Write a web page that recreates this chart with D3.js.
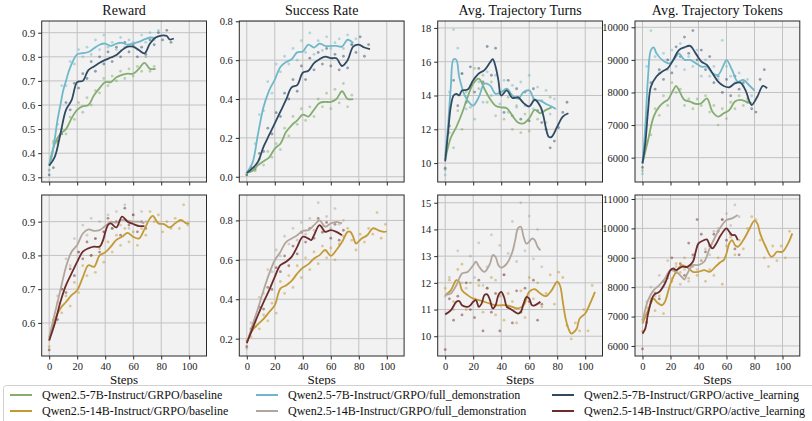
<!DOCTYPE html>
<html>
<head>
<meta charset="utf-8">
<script src="https://cdn.jsdelivr.net/npm/d3@7"></script>
<style>
body { margin: 0; background: #fff; }
svg { display: block; font-family: "Liberation Serif", "DejaVu Serif", serif; }
</style>
</head>
<body>
<svg id="chart" width="812" height="421"></svg>
<script>
// ---- data ----
const xTicks = [0, 20, 40, 60, 80, 100];
const dotStride = 3; // scatter points every 3 steps, starting at step 0

const seriesNames = [
  'Qwen2.5-7B-Instruct/GRPO/baseline',
  'Qwen2.5-7B-Instruct/GRPO/full_demonstration',
  'Qwen2.5-7B-Instruct/GRPO/active_learning',
  'Qwen2.5-14B-Instruct/GRPO/baseline',
  'Qwen2.5-14B-Instruct/GRPO/full_demonstration',
  'Qwen2.5-14B-Instruct/GRPO/active_learning'
];
const seriesColors = ['#84ad6f', '#6fb8c9', '#2f4a63', '#c39a36', '#b2a69c', '#6d2b2b'];
const titles = ['Reward', 'Success Rate', 'Avg. Trajectory Turns', 'Avg. Trajectory Tokens'];

// Reward, 7B
const rewardBase7B = [[0,.35],[4,.44],[8,.48],[12,.50],[16,.545],[20,.58],[24,.595],[28,.60],[32,.64],[36,.67],[40,.695],[44,.695],[48,.715],[52,.725],[56,.73],[60,.73],[64,.75],[68,.775],[72,.75],[76,.75]];
const rewardFull7B = [[0,.35],[2,.39],[4,.46],[6,.54],[8,.60],[10,.66],[12,.70],[14,.74],[16,.77],[20,.81],[24,.815],[28,.82],[32,.835],[36,.85],[40,.855],[44,.845],[48,.855],[52,.858],[56,.85],[60,.855],[64,.862],[68,.872],[72,.88],[76,.877]];
const rewardActive7B = [[0,.348],[4,.385],[8,.48],[12,.58],[16,.62],[20,.695],[24,.70],[28,.745],[32,.76],[36,.775],[40,.787],[44,.797],[48,.807],[52,.828],[56,.842],[60,.842],[64,.828],[68,.814],[72,.855],[76,.88],[80,.888],[84,.886],[86,.872],[89,.876]];
const rewardBase7BDots = [.33,.45,.44,.50,.48,.55,.54,.61,.57,.63,.60,.66,.65,.71,.68,.72,.70,.74,.71,.75,.72,.76,.74,.80,.74,.76];
const rewardFull7BDots = [.33,.44,.52,.68,.68,.78,.77,.83,.80,.84,.81,.87,.83,.89,.84,.86,.83,.88,.84,.87,.86,.83,.89,.86,.90,.87,.91];
const rewardActive7BDots = [.31,.34,.45,.48,.61,.58,.69,.67,.73,.71,.78,.74,.80,.77,.82,.78,.84,.80,.86,.82,.85,.80,.84,.81,.87,.85,.90,.87,.91,.86];

// Success rate, 7B
const srBase7B = [[0,.02],[4,.03],[8,.06],[12,.08],[16,.10],[20,.145],[24,.17],[28,.23],[32,.265],[36,.29],[40,.32],[44,.31],[48,.345],[52,.38],[56,.385],[60,.385],[64,.40],[68,.44],[72,.40],[76,.40]];
const srFull7B = [[0,.02],[4,.07],[8,.22],[12,.36],[16,.445],[20,.50],[24,.565],[28,.59],[32,.605],[36,.64],[40,.645],[44,.68],[48,.665],[52,.685],[56,.673],[60,.673],[64,.673],[68,.67],[72,.705],[76,.687]];
const srActive7B = [[0,.02],[4,.043],[8,.077],[12,.155],[16,.215],[20,.275],[24,.335],[28,.395],[32,.46],[36,.472],[40,.535],[44,.545],[48,.585],[52,.605],[56,.618],[60,.61],[64,.61],[68,.57],[72,.60],[76,.67],[80,.68],[84,.665],[88,.657]];
const srBase7BDots = [.01,.04,.03,.09,.06,.13,.10,.17,.14,.25,.21,.31,.27,.35,.29,.36,.31,.40,.36,.43,.35,.45,.38,.48,.36,.42];
const srFull7BDots = [.02,.04,.17,.32,.34,.49,.43,.58,.54,.62,.58,.66,.60,.70,.64,.74,.63,.70,.65,.72,.66,.69,.71,.66,.73,.68,.71];
const srActive7BDots = [.01,.05,.04,.12,.13,.25,.22,.33,.31,.43,.40,.50,.44,.57,.50,.61,.55,.64,.58,.66,.57,.63,.55,.62,.56,.68,.64,.72,.62,.68];

// Turns, 7B
const turnsBase7B = [[0,10.2],[4,11.5],[8,12.15],[12,12.95],[16,13.9],[20,14.7],[24,15.0],[28,14.4],[32,13.8],[36,13.4],[40,13.3],[44,13.25],[48,12.8],[52,12.4],[56,12.35],[60,12.65],[64,13.15],[68,12.95],[72,13.15],[76,13.3]];
const turnsFull7B = [[0,10.4],[2,12.15],[4,14.5],[6,16.15],[8,16.1],[10,15.1],[14,14.0],[18,13.5],[20,13.4],[24,13.9],[28,14.7],[32,14.6],[36,14.1],[40,14.2],[44,14.4],[48,14.0],[52,13.8],[56,14.2],[60,14.3],[64,13.75],[68,13.7],[72,13.5],[76,13.35],[79,13.2]];
const turnsActive7B = [[0,10.1],[2,11.75],[4,13.35],[6,14.0],[8,14.1],[10,14.0],[12,14.3],[16,14.35],[20,14.9],[24,15.3],[28,15.5],[32,15.95],[34,16.15],[36,15.7],[38,14.9],[40,14.0],[44,14.3],[48,13.85],[52,13.9],[56,13.55],[60,13.35],[64,13.75],[68,13.35],[70,12.85],[72,12.05],[74,11.55],[76,11.55],[80,12.15],[84,12.75],[88,12.95]];
const turnsBase7BDots = [9.6,11.8,10.9,13.1,12.0,14.2,13.3,15.6,14.4,15.2,13.6,14.8,12.8,14.1,12.6,13.9,12.0,13.4,11.8,12.9,11.9,13.8,12.6,13.7,12.4,13.9];
const turnsFull7BDots = [9.3,14.2,17.9,16.8,15.3,13.2,14.6,12.6,14.8,13.6,15.4,14.0,15.2,13.5,14.9,13.0,14.6,13.3,14.8,13.4,15.2,13.2,14.5,13.1,14.3,12.9,13.8];
const turnsActive7BDots = [9.7,12.2,14.9,13.4,15.3,13.6,15.7,14.2,15.6,14.8,16.9,15.2,16.8,14.2,13.0,14.9,12.8,14.4,12.6,14.2,12.5,14.4,13.1,12.4,12.0,10.9,11.3,12.1,13.0,13.6];

// Tokens, 7B
const tokBase7B = [[0,5826],[4,6540],[8,7260],[12,7565],[16,7720],[18,7770],[22,8075],[24,8200],[26,8075],[30,7770],[34,7720],[38,7650],[42,7670],[46,7820],[50,7410],[54,7260],[58,7360],[62,7460],[66,7720],[70,7770],[74,7720],[78,7670]];
const tokFull7B = [[0,5826],[2,6950],[4,8500],[6,9300],[8,9386],[10,9200],[14,9000],[18,8900],[20,8900],[24,9100],[26,9200],[30,9000],[34,9000],[38,8900],[42,8790],[46,8790],[50,8590],[54,8540],[58,8845],[60,9000],[64,8690],[68,8330],[72,8385],[76,8230],[80,8056]];
const tokActive7B = [[0,5826],[2,6440],[4,7460],[6,8180],[10,8490],[14,8640],[18,8740],[22,9000],[26,9300],[30,9385],[34,9430],[38,9200],[42,8950],[46,8845],[50,8590],[54,8330],[58,8200],[62,8160],[66,8280],[70,8300],[74,8025],[76,7770],[78,7615],[82,7870],[86,8200],[89,8130]];
const tokBase7BDots = [5600,6500,6700,7500,7300,7900,7600,8300,8000,8100,7600,7800,7500,7800,7600,7900,7400,7600,7000,7500,7200,7700,7500,7900,7600,7800];
const tokFull7BDots = [5500,8800,9900,9100,8600,9200,8700,9300,8800,9500,8700,9100,8800,9300,8500,9000,8500,8800,8400,9600,8800,8500,8300,8600,8200,8400,7900];
const tokActive7BDots = [5700,7200,8300,8100,8700,8400,9000,8600,9400,9100,9700,9200,9900,9000,9300,8700,9100,8300,8500,8000,8400,7900,8500,8100,8300,7700,7500,7400,8400,8700];

// Reward, 14B
const rewardBase14B = [[0,.553],[4,.608],[8,.643],[12,.662],[16,.682],[20,.697],[24,.735],[28,.771],[32,.766],[36,.80],[40,.809],[44,.826],[48,.846],[52,.855],[56,.867],[60,.855],[64,.85],[68,.877],[72,.91],[74,.917],[78,.895],[82,.893],[86,.883],[90,.895],[94,.905],[98,.895],[100,.895]];
const rewardFull14B = [[0,.558],[4,.628],[8,.697],[12,.766],[16,.811],[20,.831],[24,.865],[28,.877],[32,.873],[36,.875],[40,.887],[44,.90],[48,.897],[52,.905],[56,.903],[60,.90],[64,.90],[68,.895]];
const rewardActive14B = [[0,.548],[4,.598],[8,.662],[12,.712],[16,.747],[20,.781],[24,.811],[28,.821],[32,.826],[36,.826],[38,.84],[42,.89],[44,.895],[48,.883],[52,.915],[56,.90],[60,.893],[64,.887],[68,.887]];
const rewardBase14BDots = [.53,.61,.66,.63,.68,.65,.72,.69,.77,.74,.80,.75,.82,.78,.84,.81,.86,.83,.88,.84,.87,.83,.88,.86,.93,.90,.92,.87,.90,.88,.91,.88,.95,.89];
const rewardFull14BDots = [.55,.59,.68,.70,.79,.77,.85,.81,.89,.86,.91,.85,.90,.87,.92,.88,.93,.89,.95,.88,.92,.89,.93,.90];
const rewardActive14BDots = [.52,.60,.61,.70,.69,.76,.74,.81,.79,.84,.80,.85,.81,.87,.91,.88,.90,.86,.94,.89,.92,.87,.90,.88];

// Success rate, 14B
const srBase14B = [[0,.183],[4,.242],[8,.273],[12,.30],[16,.335],[20,.37],[24,.454],[28,.47],[32,.493],[36,.53],[40,.56],[44,.578],[48,.607],[52,.624],[56,.65],[60,.62],[64,.65],[68,.69],[72,.742],[74,.742],[76,.717],[78,.683],[82,.708],[86,.725],[90,.76],[94,.75],[98,.742],[100,.745]];
const srFull14B = [[0,.175],[4,.268],[8,.353],[12,.446],[16,.53],[20,.598],[24,.64],[28,.69],[32,.708],[36,.725],[40,.747],[44,.751],[48,.776],[52,.80],[56,.768],[60,.785],[64,.793],[68,.785]];
const srActive14B = [[0,.178],[4,.25],[8,.32],[12,.386],[16,.446],[20,.514],[24,.573],[28,.59],[32,.615],[36,.666],[40,.717],[44,.708],[46,.70],[48,.725],[52,.776],[56,.742],[60,.751],[64,.742],[68,.725]];
const srBase14BDots = [.19,.21,.28,.25,.32,.29,.38,.33,.49,.43,.52,.46,.57,.51,.61,.55,.64,.58,.67,.61,.66,.60,.68,.72,.76,.70,.65,.73,.69,.76,.73,.84,.71,.78];
const srFull14BDots = [.15,.28,.29,.41,.43,.55,.54,.65,.62,.72,.68,.76,.70,.79,.73,.81,.75,.89,.77,.82,.76,.86,.78,.80];
const srActive14BDots = [.16,.25,.26,.36,.35,.46,.45,.56,.54,.62,.57,.67,.63,.74,.69,.76,.71,.81,.74,.79,.71,.78,.70,.75];

// Turns, 14B
const turnsBase14B = [[0,11.54],[4,11.72],[8,12.1],[10,12.04],[12,11.72],[16,11.54],[20,11.41],[24,11.35],[28,11.29],[32,11.22],[36,11.16],[40,11.16],[44,11.16],[48,11.1],[52,11.04],[56,11.16],[60,11.66],[64,11.76],[68,11.6],[72,11.5],[76,11.72],[80,12.04],[82,11.9],[84,11.29],[86,10.66],[88,10.29],[90,10.1],[92,10.16],[94,10.29],[96,10.66],[100,10.85],[104,11.29],[107,11.66]];
const turnsFull14B = [[0,11.54],[4,11.6],[8,11.91],[12,12.35],[16,12.41],[20,12.66],[22,12.79],[24,12.62],[28,12.41],[32,12.72],[34,13.04],[36,12.97],[38,12.66],[40,12.57],[44,12.72],[48,13.16],[50,13.6],[52,14.04],[54,14.1],[56,13.72],[58,13.47],[60,13.54],[62,13.66],[64,13.6],[66,13.35],[68,13.22]];
const turnsActive14B = [[0,10.82],[4,10.97],[8,11.29],[10,11.32],[12,11.16],[16,11.1],[18,11.16],[20,11.29],[22,11.35],[24,11.1],[26,11.22],[28,11.54],[30,11.57],[32,11.35],[34,11.04],[36,11.16],[38,11.54],[40,11.66],[42,11.47],[44,11.1],[46,11.04],[48,10.97],[52,10.85],[54,10.91],[56,11.22],[58,11.47],[60,11.41],[62,11.16],[64,11.16],[68,11.29]];
const turnsBase14BDots = [11.8,12.1,11.3,12.5,12.7,11.0,12.0,11.4,11.9,10.9,11.8,12.2,10.8,11.5,10.6,11.6,11.3,10.5,11.7,10.7,12.2,11.4,12.0,11.1,11.6,12.3,11.2,12.4,12.2,10.4,9.9,10.5,10.2,11.0,10.2,11.9];
const turnsFull14BDots = [11.5,12.2,11.0,13.2,12.0,11.8,13.0,12.2,13.5,11.9,12.6,13.8,12.1,13.4,12.3,13.1,14.3,12.8,15.0,13.2,14.5,12.9,14.0,12.6];
const turnsActive14BDots = [9.5,11.4,10.6,11.5,10.8,12.0,11.0,10.7,12.1,10.2,11.8,10.9,11.6,10.2,12.3,11.1,10.5,11.7,10.9,11.8,11.3,12.1,10.6,11.2];

// Tokens, 14B
const tokBase14B = [[0,6760],[4,7216],[8,7614],[10,7500],[14,7386],[16,7500],[20,8125],[24,8523],[28,8750],[32,8670],[36,8523],[40,8523],[44,8580],[48,8523],[52,8693],[56,8864],[58,8920],[60,9148],[62,9489],[64,9602],[66,9432],[68,9375],[72,9602],[76,9943],[80,10261],[82,10170],[84,9830],[88,9375],[92,9034],[94,9091],[96,9205],[100,9205],[104,9489],[107,9830]];
const tokFull14B = [[0,6818],[4,7557],[8,7898],[12,8068],[16,8295],[20,8580],[24,8523],[28,8352],[30,8261],[32,8466],[36,8750],[40,8750],[44,8864],[48,9318],[52,9716],[56,10057],[60,10284],[64,10341],[68,10455]];
const tokActive14B = [[0,6420],[2,6590],[4,7100],[8,7727],[12,7840],[16,8125],[20,8580],[22,8636],[24,8580],[28,8693],[32,8693],[36,8864],[38,9205],[40,9489],[44,9602],[46,9625],[48,9432],[50,9318],[52,9432],[56,9773],[60,10000],[62,9886],[64,9773],[66,9773],[68,9602]];
const tokBase14BDots = [6500,7300,7600,7200,7700,7100,8300,8200,8800,8500,9000,8300,8700,8400,8900,8200,8600,8400,9000,8100,9400,9700,9100,9600,9300,10000,10400,10300,9600,9000,8700,9400,8900,9400,9000,9900];
const tokFull14BDots = [6900,7500,8000,7700,8400,8000,8900,8300,8700,8100,8600,8200,9000,8600,8900,9300,9100,9900,10000,10300,10500,10100,10800,10400];
const tokActive14BDots = [5900,6800,7500,7800,7600,8200,8400,9000,8500,8800,8400,9500,9100,10300,9800,9200,9400,9800,9900,10300,9600,9800,9300,9100];

// y-axis domains and ticks per panel
const yDomains = [
  [[0.2805, 0.9485], [-0.027, 0.8015], [8.88, 18.41], [5253, 10193]],
  [[0.502, 0.979], [0.112, 0.929], [9.26, 15.29], [5658, 11136]]
];
const yTicks = [
  [[0.3,0.4,0.5,0.6,0.7,0.8,0.9], [0.0,0.2,0.4,0.6,0.8], [10,12,14,16,18], [6000,7000,8000,9000,10000]],
  [[0.6,0.7,0.8,0.9], [0.2,0.4,0.6,0.8], [10,11,12,13,14,15], [6000,7000,8000,9000,10000,11000]]
];
const yFormats = [d3.format('.1f'), d3.format('.1f'), d3.format('d'), d3.format('d')];

const panelSeries = [
  [
    [[rewardBase7B, rewardBase7BDots, 0], [rewardFull7B, rewardFull7BDots, 1], [rewardActive7B, rewardActive7BDots, 2]],
    [[srBase7B, srBase7BDots, 0], [srFull7B, srFull7BDots, 1], [srActive7B, srActive7BDots, 2]],
    [[turnsBase7B, turnsBase7BDots, 0], [turnsFull7B, turnsFull7BDots, 1], [turnsActive7B, turnsActive7BDots, 2]],
    [[tokBase7B, tokBase7BDots, 0], [tokFull7B, tokFull7BDots, 1], [tokActive7B, tokActive7BDots, 2]]
  ],
  [
    [[rewardBase14B, rewardBase14BDots, 3], [rewardFull14B, rewardFull14BDots, 4], [rewardActive14B, rewardActive14BDots, 5]],
    [[srBase14B, srBase14BDots, 3], [srFull14B, srFull14BDots, 4], [srActive14B, srActive14BDots, 5]],
    [[turnsBase14B, turnsBase14BDots, 3], [turnsFull14B, turnsFull14BDots, 4], [turnsActive14B, turnsActive14BDots, 5]],
    [[tokBase14B, tokBase14BDots, 3], [tokFull14B, tokFull14BDots, 4], [tokActive14B, tokActive14BDots, 5]]
  ]
];

// ---- layout ----
const svg = d3.select('#chart');
const colLeft = [41.7, 239.3, 437.7, 635];
const panelW = 164.8;
const rowTop = [21, 195];
const panelH = 161;
const serif = '"Liberation Serif", "DejaVu Serif", serif';

const x = d3.scaleLinear().domain([-5.35, 112.35]).range([0, panelW]);

for (let r = 0; r < 2; r++) {
  for (let c = 0; c < 4; c++) {
    const g = svg.append('g').attr('transform', 'translate(' + colLeft[c] + ',' + rowTop[r] + ')');
    const y = d3.scaleLinear().domain(yDomains[r][c]).range([panelH, 0]);

    g.append('rect').attr('width', panelW).attr('height', panelH).attr('fill', '#f2f2f2');

    // grid
    g.selectAll('.gx').data(xTicks).enter().append('line')
      .attr('x1', d => x(d)).attr('x2', d => x(d)).attr('y1', 0).attr('y2', panelH)
      .attr('stroke', '#c2c2c2').attr('stroke-width', 1);
    g.selectAll('.gy').data(yTicks[r][c]).enter().append('line')
      .attr('x1', 0).attr('x2', panelW).attr('y1', d => y(d)).attr('y2', d => y(d))
      .attr('stroke', '#c2c2c2').attr('stroke-width', 1);

    // scatter first, then smoothed lines
    panelSeries[r][c].forEach(s => {
      const col = seriesColors[s[2]];
      g.selectAll(null).data(s[1]).enter().append('circle')
        .attr('cx', (d, i) => x(i * dotStride)).attr('cy', d => y(d)).attr('r', 1.4)
        .attr('fill', col).attr('fill-opacity', 0.5);
    });
    panelSeries[r][c].forEach(s => {
      const line = d3.line().x(d => x(d[0])).y(d => y(d[1])).curve(d3.curveCatmullRom.alpha(0.5));
      g.append('path').datum(s[0]).attr('d', line)
        .attr('fill', 'none').attr('stroke', seriesColors[s[2]]).attr('stroke-width', 1.8)
        .attr('stroke-linejoin', 'round');
    });

    // frame
    g.append('rect').attr('width', panelW).attr('height', panelH)
      .attr('fill', 'none').attr('stroke', '#2a2a2a').attr('stroke-width', 1);

    // axes
    const xa = d3.axisBottom(x).tickValues(xTicks).tickSize(3.5).tickPadding(3);
    if (r === 0) xa.tickFormat('');
    const gx = g.append('g').attr('transform', 'translate(0,' + panelH + ')').call(xa);
    const ya = d3.axisLeft(y).tickValues(yTicks[r][c]).tickSize(3.5).tickPadding(3).tickFormat(yFormats[c]);
    const gy = g.append('g').call(ya);
    [gx, gy].forEach(a => {
      a.attr('font-family', serif).attr('font-size', 10.5);
      a.select('.domain').remove();
      a.selectAll('.tick line').attr('stroke', '#2a2a2a');
      a.selectAll('.tick text').attr('fill', '#222');
    });

    if (r === 0) {
      g.append('text').attr('x', panelW / 2).attr('y', -6).attr('text-anchor', 'middle')
        .style('font-size', '14px').attr('fill', '#111').text(titles[c]);
    } else {
      g.append('text').attr('x', panelW / 2).attr('y', panelH + 28).attr('text-anchor', 'middle')
        .style('font-size', '13px').attr('fill', '#111').text('Steps');
    }
  }
}

// ---- legend ----
const legend = svg.append('g');
legend.append('rect').attr('x', 3.5).attr('y', 385.5).attr('width', 820).attr('height', 50).attr('rx', 3)
  .attr('fill', '#fff').attr('stroke', '#d0d0d0');
const legCols = [10, 256, 552];
const legRows = [395, 411];
seriesNames.forEach((name, i) => {
  const cx = legCols[i % 3], cy = legRows[Math.floor(i / 3)];
  legend.append('line').attr('x1', cx).attr('x2', cx + 22).attr('y1', cy).attr('y2', cy)
    .attr('stroke', seriesColors[i]).attr('stroke-width', 2);
  legend.append('text').attr('x', cx + 32).attr('y', cy + 4).style('font-size', '12px')
    .attr('fill', '#111').text(name);
});
</script>
</body>
</html>
